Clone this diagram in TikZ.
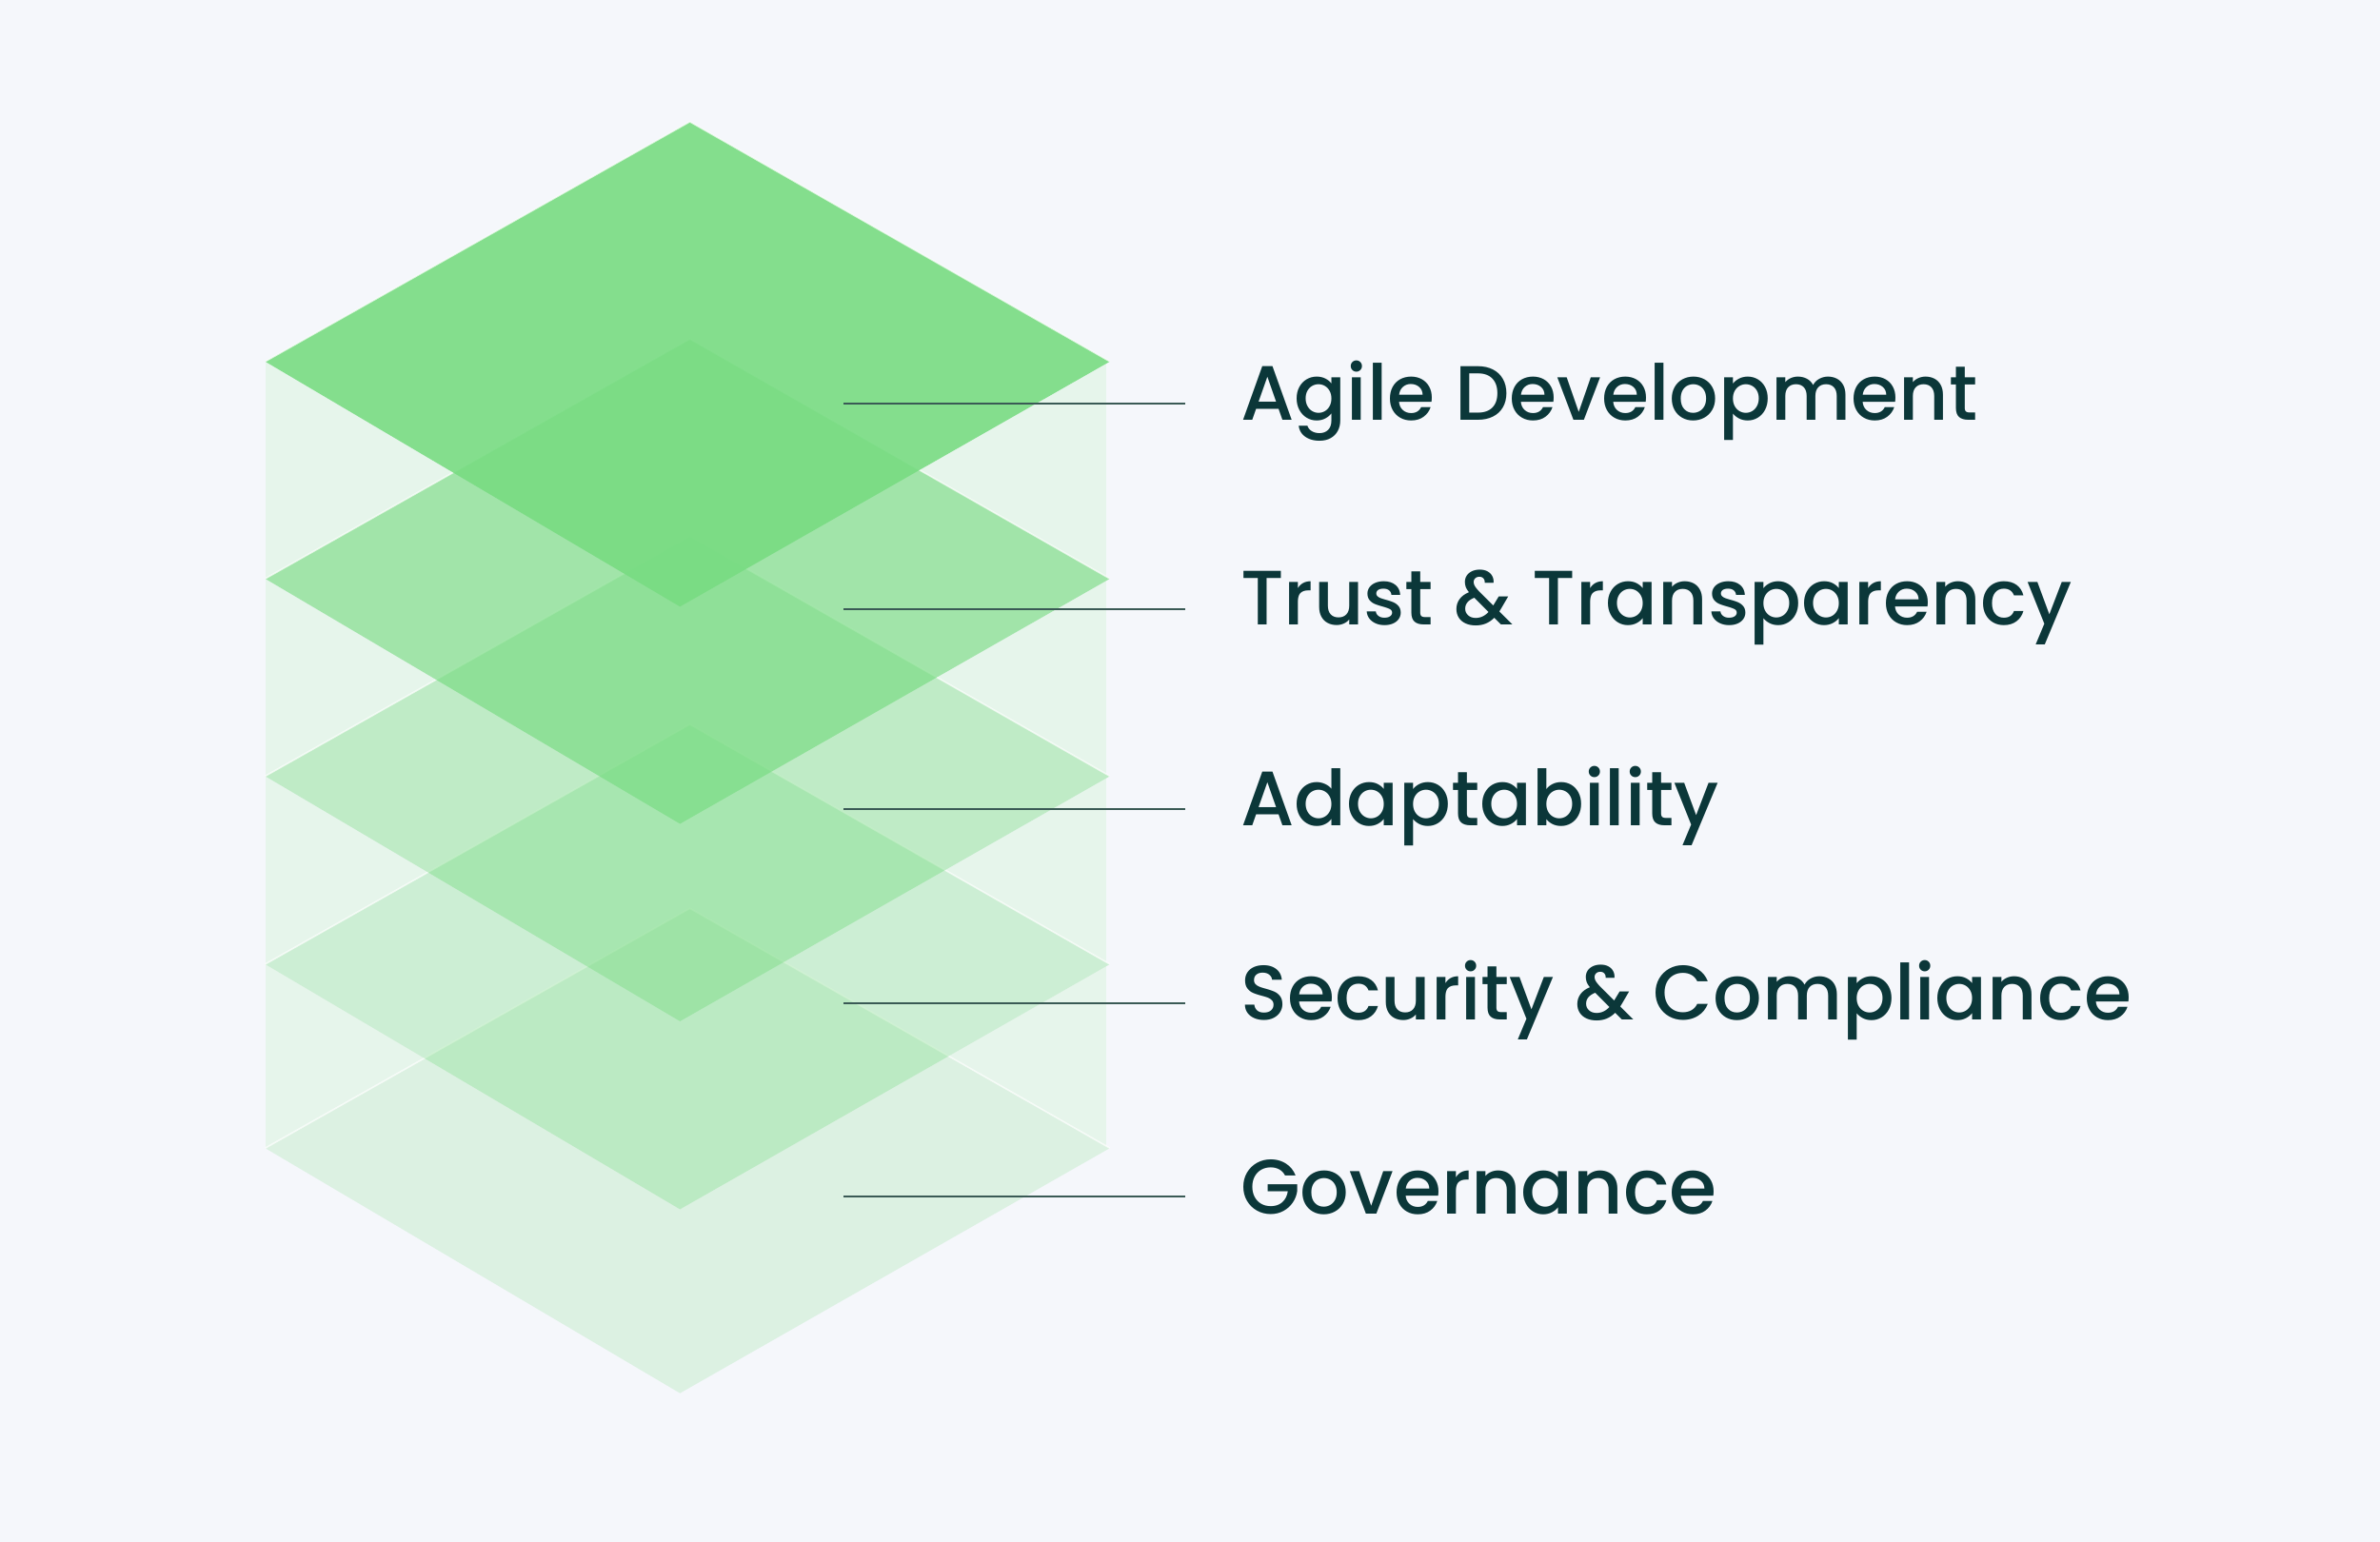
\documentclass[tikz,border=0pt]{standalone}
\usepackage{fontspec}
\newfontfamily\labelfont{Poppins}[UprightFont={* Medium}]
\definecolor{bg}{HTML}{F5F7FB}
\definecolor{pale}{HTML}{E6F5EB}
\definecolor{leaf}{RGB}{120,220,130}
\definecolor{ink}{HTML}{0B3739}
\definecolor{rulec}{HTML}{3A5A55}
\tikzset{
  label text/.style={anchor=base west, inner sep=0pt, text=ink,
    font=\labelfont\fontsize{25.4}{30}\selectfont},
  leader/.style={draw=rulec, line width=0.6pt},
  layer/.style={fill=leaf, draw=none},
  rim/.style={draw=white, line width=0.5pt, draw opacity=0.7}
}
\begin{document}
\begin{tikzpicture}[x=0.5pt,y=-0.5pt]
\fill[bg] (0,0) rectangle (1568,1016);
\useasboundingbox (0,0) rectangle (1568,1016);
% pale side walls
\fill[pale] (174.7,238.2) rectangle (728.5,756.5);
% knock the walls out behind the layers
\fill[bg]
  \foreach \s in {756.5, 635.3, 511.4, 381.3, 238.2} {
    (454.5,\s-158) -- (731.2,\s) -- (448,\s+161.5) -- (174.7,\s) -- cycle
  };
% layers, bottom to top
\foreach \s/\a in {756.5/0.2, 635.3/0.32, 511.4/0.43, 381.3/0.67, 238.2/0.9} {
  \fill[layer, fill opacity=\a] (454.5,\s-158) -- (731.2,\s) -- (448,\s+161.5) -- (174.7,\s) -- cycle;
  \draw[rim] (174.7,\s) -- (454.5,\s-158) -- (731.2,\s);
}
% labels
\node[label text] (t1) at (817,277) {Agile Development};
\node[label text] (t2) at (817,412) {Trust \& Transparency};
\node[label text] (t3) at (817,544) {Adaptability};
\node[label text] (t4) at (817,672) {Security \& Compliance};
\node[label text] (t5) at (817,800) {Governance};
% leader lines
\coordinate (p1) at (556,266.1);
\coordinate (p2) at (556,401.2);
\coordinate (p3) at (556,532.9);
\coordinate (p4) at (556,660.8);
\coordinate (p5) at (556,788.4);
\foreach \i in {1,...,5} {
  \draw[leader] (p\i) -- ([xshift=-18pt]p\i -| t\i.west);
}
\end{tikzpicture}
\end{document}
